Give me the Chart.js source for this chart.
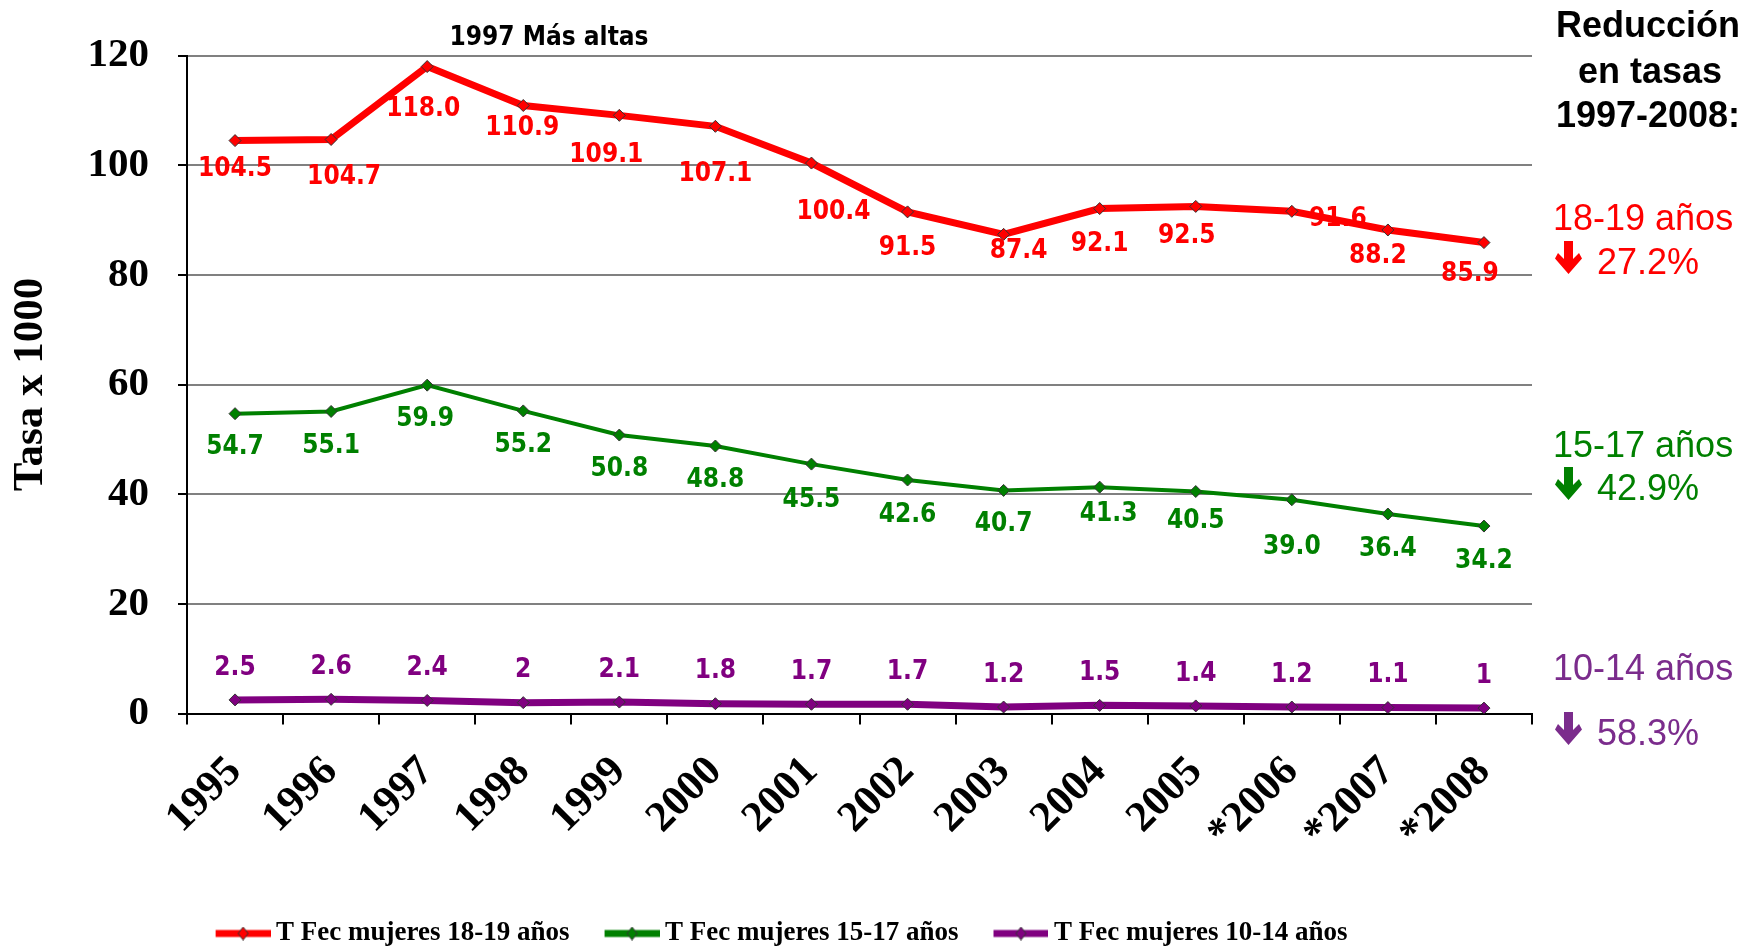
<!DOCTYPE html>
<html>
<head>
<meta charset="utf-8">
<script src="https://cdn.jsdelivr.net/npm/chart.js@4.4.0/dist/chart.umd.min.js"></script>
<style>
  html, body { margin: 0; padding: 0; background: #fff; }
</style>
</head>
<body>
<canvas id="canvas" width="1743" height="947"></canvas>
<script>
const anios = ['1995', '1996', '1997', '1998', '1999', '2000', '2001', '2002', '2003', '2004', '2005', '*2006', '*2007', '*2008'];
const tasa1819 = [104.5, 104.7, 118.0, 110.9, 109.1, 107.1, 100.4, 91.5, 87.4, 92.1, 92.5, 91.6, 88.2, 85.9];
const tasa1517 = [54.7, 55.1, 59.9, 55.2, 50.8, 48.8, 45.5, 42.6, 40.7, 41.3, 40.5, 39.0, 36.4, 34.2];
const tasa1014 = [2.5, 2.6, 2.4, 2, 2.1, 1.8, 1.7, 1.7, 1.2, 1.5, 1.4, 1.2, 1.1, 1];
const grupos = ['18-19 años', '15-17 años', '10-14 años'];
const reducciones = ['27.2%', '42.9%', '58.3%'];

const rojo = '#ff0000';
const verde = '#008000';
const morado = '#800080';

// desplazamiento de cada etiqueta respecto a su punto (px)
const desplaz = [
  [[0,29],[13,38],[-4,43],[-1,23],[-13,40],[0,48],[22,49],[0,36],[15,17],[0,36],[-9,30],[46,8],[-10,26],[-14,32]],
  [[0,34],[0,35],[-2,34],[0,34],[0,34],[0,34],[0,36],[0,35],[0,34],[9,27],[0,30],[0,47],[0,35],[0,35]],
  anios.map(() => [0, -32]),
];

function iconoLeyenda(color) {
  const c = document.createElement('canvas');
  c.width = 94; c.height = 14;
  const g = c.getContext('2d');
  g.fillStyle = color;
  g.fillRect(39, 3.5, 55, 7);
  g.beginPath();
  g.moveTo(66.5, 0.5); g.lineTo(71.5, 7); g.lineTo(66.5, 13.5); g.lineTo(61.5, 7); g.closePath();
  g.fill();
  g.strokeStyle = '#333'; g.lineWidth = 1; g.stroke();
  return c;
}
const iconos = [iconoLeyenda(rojo), iconoLeyenda(verde), iconoLeyenda(morado)];

const fuenteEtiqueta = 'bold 26px "DejaVu Sans Condensed", "DejaVu Sans"';

const etiquetasValores = {
  id: 'etiquetasValores',
  afterDatasetsDraw(chart) {
    const ctx = chart.ctx;
    ctx.save();
    ctx.font = fuenteEtiqueta;
    ctx.textAlign = 'center';
    ctx.textBaseline = 'middle';
    chart.data.datasets.forEach((ds, i) => {
      const meta = chart.getDatasetMeta(i);
      ctx.fillStyle = ds.borderColor;
      meta.data.forEach((p, j) => {
        const v = ds.data[j];
        const txt = i === 2 ? String(v) : v.toFixed(1);
        const [dx, dy] = desplaz[i][j];
        ctx.fillText(txt, p.x + dx, p.y + dy);
      });
    });
    ctx.restore();
  }
};

function flecha(ctx, cx, y0, color) {
  ctx.fillStyle = color;
  ctx.beginPath();
  ctx.moveTo(cx - 4.5, y0);
  ctx.lineTo(cx + 4.5, y0);
  ctx.lineTo(cx + 4.5, y0 + 18);
  ctx.lineTo(cx + 10.5, y0 + 12);
  ctx.lineTo(cx + 13.5, y0 + 17.5);
  ctx.lineTo(cx, y0 + 33);
  ctx.lineTo(cx - 13.5, y0 + 17.5);
  ctx.lineTo(cx - 10.5, y0 + 12);
  ctx.lineTo(cx - 4.5, y0 + 18);
  ctx.closePath();
  ctx.fill();
}

const notas = {
  id: 'notas',
  afterDraw(chart) {
    const ctx = chart.ctx;
    ctx.save();
    ctx.fillStyle = '#000';
    ctx.textBaseline = 'alphabetic';
    ctx.textAlign = 'center';
    ctx.font = 'bold 26px "DejaVu Sans Condensed", "DejaVu Sans"';
    ctx.fillText('1997 Más altas', 549, 45);

    ctx.font = 'bold 36px "Liberation Sans"';
    ctx.fillText('Reducción', 1648, 37);
    ctx.fillText('en tasas', 1650, 83);
    ctx.fillText('1997-2008:', 1648, 127);

    ctx.textAlign = 'left';
    ctx.font = '36px "Liberation Sans"';
    const colores = [rojo, verde, '#7b2c8c'];
    const yGrupo = [230, 456.5, 680];
    const yRed = [274, 500, 745];
    grupos.forEach((g, i) => {
      ctx.fillStyle = colores[i];
      ctx.fillText(g, 1553, yGrupo[i]);
      ctx.fillText(reducciones[i], 1597, yRed[i]);
      flecha(ctx, 1568.5, yRed[i] - 33, colores[i]);
    });
    ctx.restore();
  }
};

const familiaSerif = '"Liberation Serif", "Times New Roman", serif';

const config = {
  type: 'line',
  data: {
    labels: anios,
    datasets: [
      {
        label: 'T Fec mujeres 18-19 años',
        data: tasa1819,
        borderColor: rojo,
        backgroundColor: rojo,
        borderWidth: 7,
        pointStyle: 'rectRot',
        pointRadius: 6,
        pointBackgroundColor: rojo,
        pointBorderColor: '#333',
        pointBorderWidth: 1,
        tension: 0,
      },
      {
        label: 'T Fec mujeres 15-17 años',
        data: tasa1517,
        borderColor: verde,
        backgroundColor: verde,
        borderWidth: 4,
        pointStyle: 'rectRot',
        pointRadius: 6,
        pointBackgroundColor: verde,
        pointBorderColor: '#333',
        pointBorderWidth: 1,
        tension: 0,
      },
      {
        label: 'T Fec mujeres 10-14 años',
        data: tasa1014,
        borderColor: morado,
        backgroundColor: morado,
        borderWidth: 7,
        pointStyle: 'rectRot',
        pointRadius: 6,
        pointBackgroundColor: morado,
        pointBorderColor: '#333',
        pointBorderWidth: 1,
        tension: 0,
      },
    ],
  },
  options: {
    responsive: false,
    animation: false,
    layout: { padding: { top: 55.6, right: 211, bottom: -10, left: 0 } },
    plugins: {
      tooltip: { enabled: false },
      legend: {
        position: 'bottom',
        labels: {
          usePointStyle: true,
          pointStyleWidth: 78,
          padding: 4,
          color: '#000',
          font: { family: familiaSerif, size: 27, weight: 'bold' },
          generateLabels: chart => Chart.defaults.plugins.legend.labels.generateLabels(chart)
            .map((it, i) => Object.assign(it, { pointStyle: iconos[i] })),
        },
      },
    },
    scales: {
      x: {
        offset: true,
        grid: { offset: true, drawOnChartArea: false, tickLength: 11, color: '#000', lineWidth: 2 },
        border: { color: '#000', width: 2 },
        ticks: {
          autoSkip: false, minRotation: 45, maxRotation: 45, padding: 22, color: '#000',
          font: { family: familiaSerif, size: 43, weight: 'bold' },
        },
        afterFit: s => { s.height = 202.4; },
      },
      y: {
        min: 0,
        max: 120,
        ticks: { stepSize: 20, padding: 29, color: '#000', font: { family: familiaSerif, size: 41, weight: 'bold' } },
        grid: {
          color: c => (c.tick && c.tick.value === 0 ? 'rgba(0,0,0,0)' : '#808080'),
          lineWidth: 2,
          tickColor: '#000',
          tickLength: 9,
        },
        border: { color: '#000', width: 2 },
        title: {
          display: true, text: 'Tasa x 1000', color: '#000',
          font: { family: familiaSerif, size: 43, weight: 'bold' },
          padding: { top: 5, bottom: 0 },
        },
        afterFit: s => { s.width = 187; },
      },
    },
  },
  plugins: [etiquetasValores, notas],
};

const chart = new Chart(document.getElementById('canvas'), config);
</script>
</body>
</html>
